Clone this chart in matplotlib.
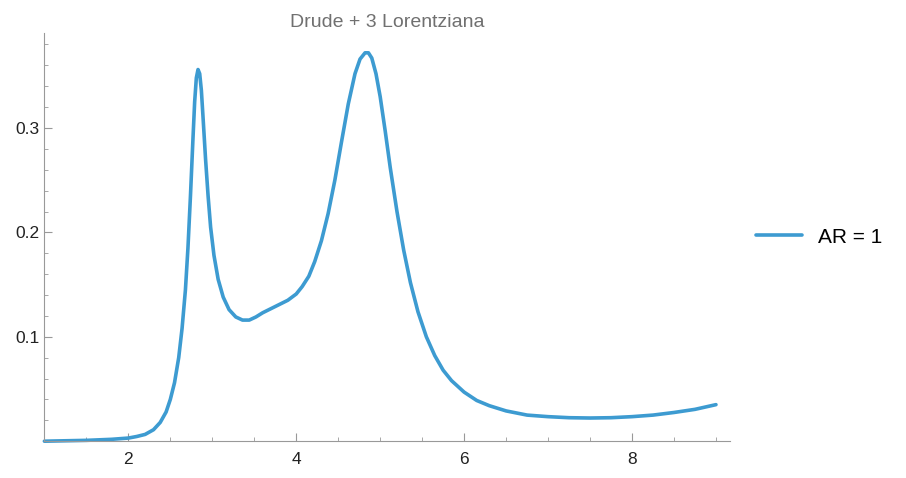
import matplotlib
matplotlib.use("Agg")
import matplotlib.pyplot as plt
from matplotlib.ticker import MultipleLocator

plt.rcParams["font.family"] = ["Liberation Sans", "DejaVu Sans"]

# ── Data ──────────────────────────────────────────────────────────────────────
x_vals = [1.0, 1.5, 1.8, 2.0, 2.1, 2.2, 2.3, 2.38, 2.45, 2.5, 2.55, 2.6, 2.64,
          2.68, 2.71, 2.74, 2.77, 2.79, 2.81, 2.83, 2.85, 2.87, 2.89, 2.92,
          2.95, 2.98, 3.02, 3.07, 3.13, 3.2, 3.28, 3.36, 3.44, 3.52, 3.6,
          3.7, 3.8, 3.9, 4.0, 4.07, 4.15, 4.22, 4.3, 4.38, 4.46, 4.54, 4.62,
          4.7, 4.76, 4.82, 4.86, 4.9, 4.95, 5.0, 5.06, 5.12, 5.2, 5.28, 5.36,
          5.45, 5.55, 5.65, 5.75, 5.85, 6.0, 6.15, 6.3, 6.5, 6.75, 7.0, 7.25,
          7.5, 7.75, 8.0, 8.25, 8.5, 8.75, 9.0]
y_vals = [0.0, 0.0008, 0.0018, 0.003, 0.0045, 0.0065, 0.011, 0.018, 0.028,
          0.04, 0.056, 0.08, 0.108, 0.145, 0.185, 0.235, 0.29, 0.325, 0.348,
          0.356, 0.352, 0.336, 0.31, 0.27, 0.235, 0.205, 0.178, 0.155, 0.138,
          0.126, 0.119, 0.116, 0.116, 0.119, 0.123, 0.127, 0.131, 0.135,
          0.141, 0.148, 0.158, 0.172, 0.192, 0.218, 0.25, 0.287, 0.323, 0.352,
          0.366, 0.372, 0.372, 0.367, 0.352, 0.33, 0.297, 0.262, 0.22, 0.183,
          0.152, 0.124, 0.1, 0.082, 0.068, 0.058, 0.047, 0.039, 0.034, 0.029,
          0.025, 0.0235, 0.0225, 0.0222, 0.0225, 0.0235, 0.025, 0.0275,
          0.0305, 0.035]
series_label = "AR = 1"
title = "Drude + 3 Lorentziana"

LINE_COLOR = "#3d9bd1"
AXIS_COLOR = "#999999"

fig = plt.figure(figsize=(9.06, 4.78), dpi=100)
ax = fig.add_axes([0.049, 0.077, 0.757, 0.854])

ax.plot(x_vals, y_vals, color=LINE_COLOR, linewidth=2.6, label=series_label,
        solid_joinstyle="round", solid_capstyle="round", clip_on=False)

ax.set_xlim(1.0, 9.17)
ax.set_ylim(0.0, 0.391)

for side in ("top", "right"):
    ax.spines[side].set_visible(False)
for side in ("left", "bottom"):
    ax.spines[side].set_color(AXIS_COLOR)

ax.xaxis.set_minor_locator(MultipleLocator(0.5))
ax.yaxis.set_minor_locator(MultipleLocator(0.02))
ax.set_xticks([2, 4, 6, 8])
ax.set_yticks([0.1, 0.2, 0.3])
ax.tick_params(which="both", direction="in", color=AXIS_COLOR, labelsize=12.5,
               labelcolor="#222222")
ax.tick_params(which="major", length=6)
ax.tick_params(which="minor", length=3)
ax.tick_params(axis="x", pad=8)

ax.set_title(title, color="#707070", fontsize=14, pad=4)

ax.legend(loc="center left", bbox_to_anchor=(1.01, 0.5), frameon=False,
          fontsize=15, handlelength=2.2)

fig.savefig("out.png", dpi=100)
